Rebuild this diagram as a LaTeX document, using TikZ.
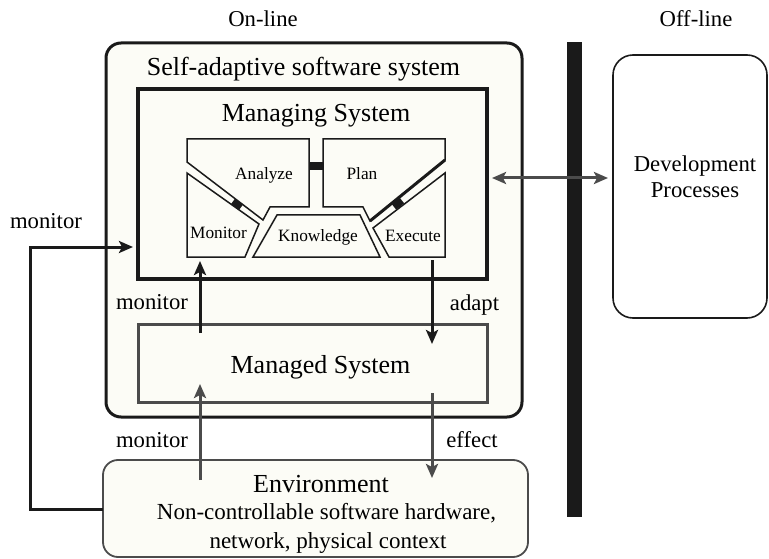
\documentclass[tikz,border=0pt]{standalone}
\usepackage{fontspec}
\setmainfont{Liberation Serif}
\usetikzlibrary{arrows.meta}
\definecolor{cream}{RGB}{252,252,246}
\definecolor{ink}{RGB}{26,26,26}
\definecolor{grayink}{RGB}{75,75,75}
\begin{document}
\begin{tikzpicture}[x=1pt,y=-1pt,
  big/.style={font=\fontsize{26}{30}\selectfont, anchor=base, inner sep=0pt},
  lab/.style={font=\fontsize{22.7}{26}\selectfont, anchor=base, inner sep=0pt},
  sml/.style={font=\fontsize{17.3}{20}\selectfont, anchor=base, inner sep=0pt},
  box/.style 2 args={minimum width=#1, minimum height=#2, inner sep=0pt, outer sep=0pt},
  mape/.style={draw=ink, line width=1.5pt, line join=miter},
  tip/.style={-{Stealth[length=14pt,width=12pt,inset=3pt]}},
  conn/.style={line width=3pt, draw=ink},
  gconn/.style={line width=3pt, draw=grayink},
]
\useasboundingbox (0,0) rectangle (769,559);

% containers
\node[box={416pt}{374pt}, draw=ink, fill=cream, line width=3pt, rounded corners=15pt] (sas) at (314,230) {};
\node[box={349pt}{190pt}, draw=ink, line width=3.5pt] (managing) at (312.5,184) {};
\node[box={349pt}{78pt}, draw=grayink, line width=3pt] (managed) at (312.5,363) {};
\node[box={425pt}{97pt}, draw=grayink, fill=cream, line width=1.8pt, rounded corners=15pt] (env) at (315.5,508.5) {};
\node[box={154pt}{263pt}, draw=ink, line width=1.6pt, rounded corners=20pt] (dev) at (690,186.5) {};
\node[box={15pt}{475pt}, fill=ink] (bar) at (574.5,279.5) {};

% headings
\node[lab] (online) at (263,27) {On-line};
\node[lab] (offline) at (696,27) {Off-line};
\node[big] (sastitle) at (303.5,76) {Self-adaptive software system};
\node[big] (mngtitle) at (316,121.5) {Managing System};
\node[big] (mgdtitle) at (320.5,373) {Managed System};
\node[big] (envtitle) at (321,492) {Environment};
\node[font=\fontsize{23}{28}\selectfont, anchor=base, inner sep=0pt] (envl1) at (326.5,519) {Non-controllable software hardware,};
\node[font=\fontsize{23}{28}\selectfont, anchor=base, inner sep=0pt] (envl2) at (328,548) {network, physical context};
\node[lab] (devl1) at (695,172) {Development};
\node[lab] (devl2) at (695,198) {Processes};

% MAPE-K loop
\draw[mape] (187,139) -- (309,139) -- (309,207) -- (270,207) -- (263,220) -- (187,162) -- cycle;
\draw[mape] (323,139) -- (445,139) -- (445,160) -- (370,221) -- (363,207) -- (323,207) -- cycle;
\draw[draw=ink, line width=3pt] (445,160) -- (370,221);
\draw[mape] (187,173) -- (259,224) -- (245,257) -- (187,257) -- cycle;
\draw[mape] (445,173) -- (373,228) -- (389,257) -- (445,257) -- cycle;
\draw[mape] (277,215) -- (360,215) -- (380,257) -- (253,257) -- cycle;
\fill[ink] (309,162) rectangle (323,170);
\draw[ink, line width=7pt] (233,201.4) -- (241,207.3);
\draw[ink, line width=7pt] (402,200.6) -- (394,206.9);

\node[sml] (analyze) at (264,180) {Analyze};
\node[sml] (plan) at (362,180) {Plan};
\node[sml] (monitorK) at (218.5,239) {Monitor};
\node[sml] (knowledge) at (318,241) {Knowledge};
\node[sml] (execute) at (413,241) {Execute};

% connector ends
\coordinate (monIn) at (200,261);
\coordinate (monFrom) at (200,333);
\coordinate (exeOut) at (432,260);
\coordinate (adaptTo) at (432,344);
\coordinate (envUp) at (200,480);
\coordinate (mgdIn) at (200,384);
\coordinate (mgdOut) at (432,393);
\coordinate (envIn) at (432,478);
\coordinate (loopL) at (30,509);
\coordinate (loopIn) at (133,247);
\coordinate (devL) at (492,178);
\coordinate (devR) at (608,178);

% connectors
\draw[conn, tip] (monFrom) -- (monIn);
\draw[conn, tip] (exeOut) -- (adaptTo);
\draw[gconn, tip] (envUp) -- (mgdIn);
\draw[gconn, tip] (mgdOut) -- (envIn);
\draw[conn, tip] (env.west |- loopL) -- (loopL) |- (loopIn);
\draw[gconn, {Stealth[length=14pt,width=12pt,inset=3pt]}-{Stealth[length=14pt,width=12pt,inset=3pt]}] (devL) -- (devR);

% connector labels
\node[lab] (lmonU) at (152,309) {monitor};
\node[lab] (ladapt) at (474.5,310) {adapt};
\node[lab] (lmonL) at (152,447) {monitor};
\node[lab] (leffect) at (472,447) {effect};
\node[lab] (lmonO) at (46,229) {monitor};
\end{tikzpicture}
\end{document}
